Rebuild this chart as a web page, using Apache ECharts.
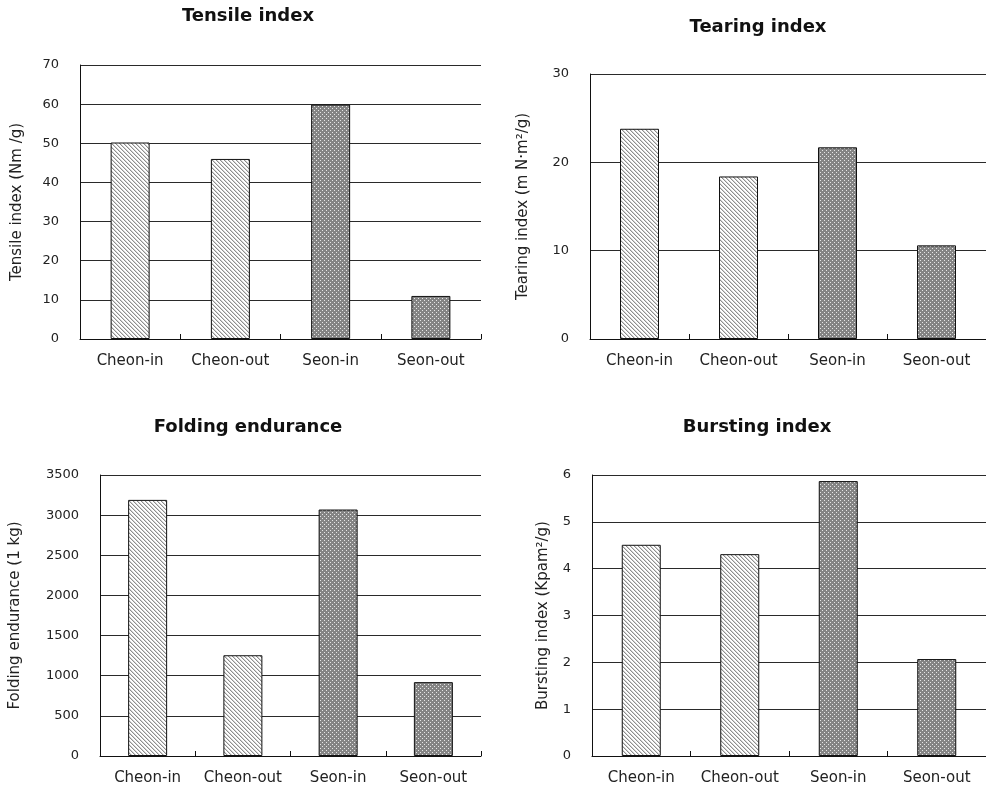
<!DOCTYPE html>
<html><head><meta charset="utf-8">
<script src="https://cdn.jsdelivr.net/npm/echarts@6/dist/echarts.min.js"></script>
<style>html,body{margin:0;padding:0;background:#fff}#c{width:986px;height:790px}</style>
</head><body><div id="c"></div>
<script>
var categories = ['Cheon-in', 'Cheon-out', 'Seon-in', 'Seon-out'];
var tensileValues = [50.2, 46.0, 59.9, 11.0];
var tearingValues = [23.8, 18.4, 21.7, 10.6];
var foldingValues = [3190, 1255, 3070, 920];
var burstingValues = [4.51, 4.31, 5.87, 2.07];
var titles = ['Tensile index', 'Tearing index', 'Folding endurance', 'Bursting index'];
var axisNames = ['Tensile index (Nm /g)', 'Tearing index (m N\u00b7m\u00b2/g)', 'Folding endurance (1 kg)', 'Bursting index (Kpam\u00b2/g)'];
var yMax = [70, 30, 3500, 6];
var yInterval = [10, 10, 500, 1];

function makeHatch() {
  var c = document.createElement('canvas'); c.width = 4; c.height = 4;
  var g = c.getContext('2d'); g.fillStyle = '#fff'; g.fillRect(0,0,4,4);
  for (var i = 0; i < 4; i++) {
    g.fillStyle = '#8e8e8e'; g.fillRect(i, i, 1, 1);
    g.fillStyle = '#d4d4d4'; g.fillRect((i + 1) % 4, i, 1, 1);
  }
  return c;
}
function makeDots() {
  var c = document.createElement('canvas'); c.width = 4; c.height = 4;
  var g = c.getContext('2d'); g.fillStyle = '#848484'; g.fillRect(0,0,4,4);
  g.fillStyle = '#e6e6e6'; g.fillRect(0,0,1,1); g.fillRect(2,2,1,1);
  return c;
}
var hatch = {image: makeHatch(), repeat: 'repeat'};
var dots = {image: makeDots(), repeat: 'repeat'};
var fills = [hatch, hatch, dots, dots];

var grids = [
  {left: 80, top: 65, width: 401, height: 274},
  {left: 590, top: 74, width: 400, height: 265},
  {left: 100, top: 475, width: 381, height: 281},
  {left: 592, top: 475, width: 397, height: 281}
];
var nameGaps = [55, 59, 77, 41];
var titlePos = [[248, 7], [758, 18], [248, 418], [757, 418]];
var allValues = [tensileValues, tearingValues, foldingValues, burstingValues];
var font = 'DejaVu Sans';

var xAxes = [], yAxes = [], series = [], graphics = [];
for (var k = 0; k < 4; k++) {
  xAxes.push({
    type: 'category', gridIndex: k, data: categories,
    axisLine: {lineStyle: {color: '#111', width: 1}},
    axisTick: {show: true, inside: true, length: 5, interval: 0, lineStyle: {color: '#111'}},
    axisLabel: {fontFamily: font, fontSize: 15, color: '#222', margin: 15, interval: 0, hideOverlap: false}
  });
  yAxes.push({
    type: 'value', gridIndex: k, min: 0, max: yMax[k], interval: yInterval[k],
    name: axisNames[k], nameLocation: 'middle', nameRotate: 90, nameGap: nameGaps[k],
    nameTextStyle: {fontFamily: font, fontSize: 15, color: '#222'},
    axisLine: {show: true, lineStyle: {color: '#111', width: 1}},
    axisTick: {show: false},
    axisLabel: {fontFamily: font, fontSize: 13, color: '#222', margin: 21,
      formatter: function (v) { return String(v); }},
    splitLine: {show: true, lineStyle: {color: '#2a2a2a', width: 1}}
  });
  series.push({
    type: 'bar', xAxisIndex: k, yAxisIndex: k, barWidth: 39, silent: true,
    data: allValues[k].map(function (v, i) {
      return {value: v, itemStyle: {color: fills[i], borderColor: '#111', borderWidth: 1}};
    })
  });
  graphics.push({
    type: 'text', x: titlePos[k][0], y: titlePos[k][1],
    style: {text: titles[k], fontFamily: font, fontWeight: 'bold', fontSize: 18, fill: '#111', textAlign: 'center', textVerticalAlign: 'top'}
  });
}

var chart = echarts.init(document.getElementById('c'), null, {renderer: 'canvas'});
chart.setOption({
  animation: false,
  backgroundColor: '#fff',
  grid: grids,
  xAxis: xAxes,
  yAxis: yAxes,
  series: series,
  graphic: graphics
});
</script></body></html>
